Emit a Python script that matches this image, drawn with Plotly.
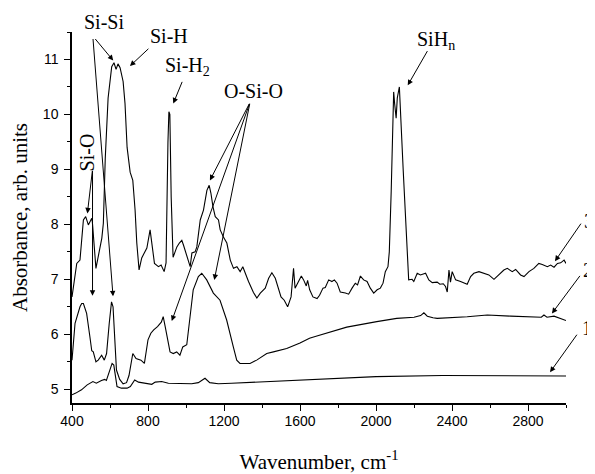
import plotly.graph_objects as go

# ---------------- data ----------------
wn3 = [400, 416, 425, 442, 460, 472, 486, 504, 507, 526, 535, 548, 557, 565, 575, 590, 609, 621, 632, 642,
       653, 669, 679, 690, 706, 720, 732, 741, 753, 767, 785, 794, 811, 820, 834, 855, 869, 885, 895, 905,
       910, 915, 922, 932, 952, 965, 978, 987, 1004, 1022, 1031, 1048, 1057, 1075, 1092, 1101, 1110, 1122,
       1131, 1142, 1154, 1171, 1180, 1197, 1215, 1233, 1250, 1268, 1285, 1299, 1312, 1329, 1355, 1373,
       1391, 1417, 1435, 1452, 1470, 1487, 1500, 1517, 1535, 1553, 1566, 1574, 1593, 1607, 1619, 1633,
       1640, 1651, 1668, 1690, 1703, 1721, 1733, 1751, 1768, 1781, 1795, 1812, 1839, 1856, 1874, 1891,
       1903, 1918, 1935, 1953, 1970, 1988, 2006, 2023, 2037, 2049, 2063, 2070, 2080, 2088, 2093, 2098,
       2106, 2112, 2123, 2143, 2164, 2172, 2190, 2199, 2217, 2234, 2261, 2278, 2296, 2322, 2336, 2354,
       2366, 2375, 2384, 2392, 2401, 2419, 2445, 2480, 2498, 2515, 2542, 2568, 2594, 2621, 2647, 2673,
       2691, 2717, 2735, 2761, 2779, 2805, 2831, 2857, 2875, 2902, 2919, 2937, 2955, 2972, 2990, 3000]
ab3 = [6.68, 7.05, 7.29, 7.35, 8.08, 8.14, 7.99, 8.11, 8.05, 7.20, 7.35, 7.62, 7.75, 8.02, 9.20, 10.30, 10.87, 10.94, 10.82, 10.92,
       10.85, 10.60, 10.20, 9.40, 8.95, 8.80, 8.26, 7.66, 7.17, 7.39, 7.53, 7.57, 7.90, 7.68, 7.29, 7.23, 7.26, 7.14, 7.30, 9.50,
       10.05, 10.00, 8.50, 7.40, 7.59, 7.66, 7.71, 7.62, 7.41, 7.23, 7.48, 7.50, 7.59, 8.08, 8.26, 8.44, 8.62, 8.71,
       8.57, 8.32, 8.14, 8.08, 7.90, 7.77, 7.66, 7.35, 7.20, 7.23, 7.14, 7.23, 7.11, 6.96, 6.76, 6.66,
       6.75, 6.84, 7.02, 7.12, 7.02, 6.81, 6.68, 6.62, 6.50, 6.68, 7.20, 6.84, 6.96, 7.06, 6.99, 6.88,
       6.98, 6.81, 6.68, 6.65, 6.71, 6.84, 6.85, 6.99, 6.96, 6.99, 6.93, 6.77, 6.75, 6.73, 6.84, 6.93,
       6.90, 7.06, 6.99, 6.96, 6.84, 6.75, 6.81, 6.84, 6.93, 7.14, 7.23, 7.50, 8.60, 9.80, 10.41, 10.20,
       9.93, 10.30, 10.50, 9.00, 7.41, 6.99, 7.00, 6.96, 7.11, 7.08, 7.11, 6.99, 6.94, 6.95, 6.91, 6.92,
       6.87, 6.77, 7.17, 6.95, 7.14, 6.99, 6.96, 6.91, 7.05, 7.11, 7.14, 7.11, 7.08, 7.00, 7.08, 7.17,
       7.20, 7.14, 7.18, 7.08, 7.05, 7.14, 7.20, 7.29, 7.27, 7.23, 7.26, 7.22, 7.29, 7.30, 7.35, 7.29]

wn2 = [400, 416, 442, 451, 460, 477, 494, 504, 512, 526, 538, 556, 570, 582, 596, 608, 616, 625, 634, 651,
       669, 687, 700, 720, 737, 763, 781, 800, 815, 830, 850, 870, 880, 890, 898, 916, 933, 951, 968, 983,
       1004, 1021, 1038, 1065, 1083, 1109, 1144, 1179, 1214, 1249, 1267, 1284, 1337, 1372, 1425, 1460,
       1530, 1600, 1650, 1680, 1846, 2004, 2109, 2200, 2235, 2252, 2270, 2300, 2322, 2480, 2586, 2709,
       2831, 2870, 2884, 2900, 2937, 2972, 3000]
ab2 = [5.53, 6.20, 6.50, 6.56, 6.56, 6.38, 5.96, 5.70, 5.68, 5.50, 5.53, 5.62, 5.53, 5.65, 6.20, 6.59, 6.50, 5.90, 5.35, 5.18,
       5.10, 5.12, 5.25, 5.65, 5.56, 5.53, 5.47, 5.90, 6.02, 6.08, 6.14, 6.22, 6.32, 6.15, 5.99, 5.68, 5.65, 5.68, 5.62, 5.77,
       5.81, 6.26, 6.81, 7.05, 7.11, 6.99, 6.75, 6.62, 6.26, 5.77, 5.53, 5.47, 5.47, 5.53, 5.65, 5.68,
       5.74, 5.84, 5.93, 5.96, 6.13, 6.23, 6.29, 6.31, 6.34, 6.39, 6.33, 6.30, 6.29, 6.32, 6.35, 6.33,
       6.31, 6.31, 6.35, 6.31, 6.33, 6.29, 6.25]

wn1 = [400, 420, 450, 480, 510, 528, 555, 572, 581, 598, 611, 620, 629, 637, 660, 690, 707, 730, 750, 785,
       820, 838, 872, 907, 960, 1030, 1065, 1100, 1125, 1170, 1240, 1415, 1600, 1800, 2000, 2350, 3000]
ab1 = [4.90, 4.93, 4.99, 5.08, 5.14, 5.11, 5.16, 5.18, 5.16, 5.32, 5.47, 5.44, 5.23, 5.05, 5.02, 5.02, 5.05, 5.17, 5.13, 5.11,
       5.09, 5.13, 5.14, 5.11, 5.10, 5.10, 5.12, 5.20, 5.12, 5.10, 5.11, 5.14, 5.17, 5.20, 5.23, 5.25, 5.24]

x_ticks = [400, 800, 1200, 1600, 2000, 2400, 2800]
y_ticks = [5, 6, 7, 8, 9, 10, 11]
X_RANGE = [400, 3000]
Y_RANGE = [4.75, 11.5]

# label texts with their positions (data units) and arrows (tail -> head, data units)
labels = [
    ("Si-Si", 568, 11.69, 0),
    ("Si-H", 910, 11.42, 0),
    ("Si-H<sub>2</sub>", 1010, 10.88, 0),
    ("O-Si-O", 1353, 10.42, 0),
    ("SiH<sub>n</sub>", 2318, 11.35, 0),
    ("Si-O", 479, 9.31, -90),
    ("3", 3121, 8.06, 0),
    ("2", 3116, 7.17, 0),
    ("1", 3110, 6.11, 0),
]
arrows = [  # (tail_x, tail_y, head_x, head_y)
    (516, 11.40, 617, 10.98),
    (510, 11.40, 616, 6.69),
    (810, 11.22, 705, 10.88),
    (983, 10.62, 933, 10.20),
    (1337, 10.22, 1126, 8.80),
    (1337, 10.22, 925, 6.24),
    (1337, 10.22, 1149, 6.99),
    (2275, 11.18, 2167, 10.53),
    (508, 9.00, 481, 8.20),
    (508, 9.00, 508, 6.70),
    (3084, 8.04, 2942, 7.33),
    (3079, 7.09, 2926, 6.38),
    (3063, 6.02, 2916, 5.31),
]

# ---------------- figure ----------------
fig = go.Figure()
line = dict(color="black", width=1.1)
for xs, ys, nm in [(wn1, ab1, "1"), (wn2, ab2, "2"), (wn3, ab3, "3")]:
    fig.add_trace(go.Scatter(x=xs, y=ys, mode="lines", line=line, name=nm, showlegend=False))

def px_(x):
    return (x - X_RANGE[0]) / (X_RANGE[1] - X_RANGE[0])

def py_(y):
    return (y - Y_RANGE[0]) / (Y_RANGE[1] - Y_RANGE[0])

annots = []
for txt, x, y, rot in labels:
    annots.append(dict(text=txt, x=px_(x), y=py_(y), xref="paper", yref="paper",
                       showarrow=False, textangle=rot,
                       font=dict(family="Liberation Serif", size=20, color="black"),
                       xanchor="center", yanchor="middle"))
for tx, ty, hx, hy in arrows:
    annots.append(dict(text="", x=hx, y=hy, xref="x", yref="y", ax=tx, ay=ty,
                       axref="x", ayref="y", showarrow=True, arrowhead=2, arrowsize=1.1,
                       arrowwidth=1, arrowcolor="black", standoff=0, startstandoff=0))

axis_common = dict(showline=True, linecolor="black", linewidth=1.5, ticks="outside",
                   ticklen=6, tickwidth=1.3, tickcolor="black", showgrid=False, zeroline=False,
                   mirror=False, tickfont=dict(family="Liberation Sans", size=14, color="black"))

# the page body has an 8px default margin, so the figure is 8px smaller than the window
fig.update_layout(
    width=587, height=466,
    margin=dict(l=64, r=29, t=24, b=71),
    plot_bgcolor="white", paper_bgcolor="white",
    annotations=annots,
    xaxis=dict(range=X_RANGE, tickvals=x_ticks, ticktext=[str(v) for v in x_ticks],
               minor=dict(dtick=200, tick0=400, ticklen=3, tickwidth=1.2, tickcolor="black", ticks="outside"),
               ticklabelstandoff=-2,
               title=dict(text="Wavenumber, cm<sup>-1</sup>", standoff=33,
                          font=dict(family="Liberation Serif", size=21, color="black")),
               **axis_common),
    yaxis=dict(range=Y_RANGE, tickvals=y_ticks, ticktext=[str(v) for v in y_ticks],
               minor=dict(dtick=0.5, tick0=5, ticklen=3, tickwidth=1.2, tickcolor="black", ticks="outside"),
               ticklabelstandoff=3,
               title=dict(text="Absorbance, arb. units", standoff=10,
                          font=dict(family="Liberation Serif", size=21, color="black")),
               **axis_common),
)
fig.update_xaxes(automargin=False)
fig.update_yaxes(automargin=False)

fig.write_html("out.html")
